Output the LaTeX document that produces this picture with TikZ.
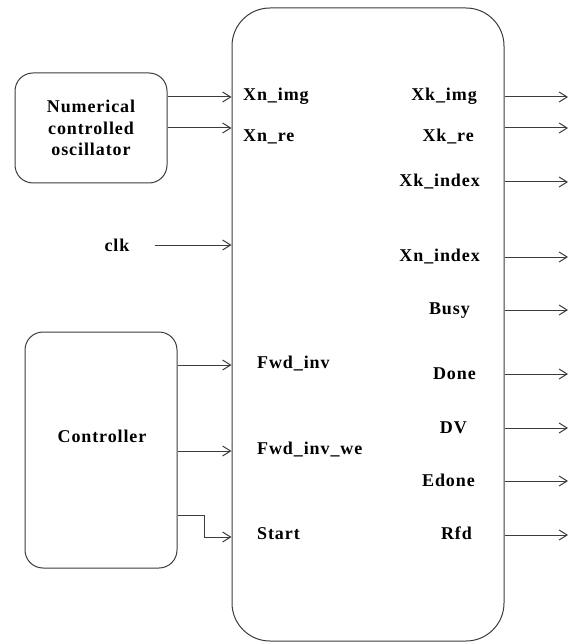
\documentclass[tikz,border=0pt]{standalone}
\usepackage{fontspec}
\setmainfont{Liberation Serif}[LetterSpace=5]
\usetikzlibrary{positioning,arrows.meta}
\definecolor{WireGray}{RGB}{60,60,60}
\tikzset{
  blk/.style={draw=WireGray,line width=1pt,rounded corners=18pt,inner sep=0pt},
  port/.style={font=\bfseries\fontsize{18}{21.5}\selectfont,inner sep=0pt,text=black},
  sig/.style={draw=WireGray,line width=1pt,-{Straight Barb[length=8pt,width=10pt,line width=1pt]}},
}

\begin{document}
\begin{tikzpicture}[x=1pt,y=-1pt]
\useasboundingbox (0,0) rectangle (576,644);
% blocks
\node[blk,minimum width=272pt,minimum height=633pt,rounded corners=38pt] (main) at (368,324.5) {};
\node[blk,port,minimum width=152pt,minimum height=110pt,align=center] (nco) at (91,128) {Numerical\\controlled\\oscillator};
\node[blk,minimum width=152pt,minimum height=236pt] (ctrl) at (101,450) {};
\node[port,anchor=base] (ctrltxt) at (102,442) {Controller};
\node[port,anchor=base] (clk) at (117,251) {clk};
% input ports
\node[port,anchor=base west] (xnimg) at (243,101) {Xn\_img};
\node[port,anchor=base west] (xnre) at (243,142) {Xn\_re};
\node[port,anchor=base west] (fwdinv) at (257,368) {Fwd\_inv};
\node[port,anchor=base west] (fwdinvwe) at (257,454) {Fwd\_inv\_we};
\node[port,anchor=base west] (start) at (257,539) {Start};
% output ports
\node[port,anchor=base east] (xkimg) at (477,101) {Xk\_img};
\node[port,anchor=base east] (xkre) at (474,142) {Xk\_re};
\node[port,anchor=base east] (xkindex) at (480,187) {Xk\_index};
\node[port,anchor=base east] (xnindex) at (480,261) {Xn\_index};
\node[port,anchor=base east] (busy) at (470,314) {Busy};
\node[port,anchor=base east] (done) at (476,379) {Done};
\node[port,anchor=base east] (dv) at (467,433) {DV};
\node[port,anchor=base east] (edone) at (475,486) {Edone};
\node[port,anchor=base east] (rfd) at (472,539) {Rfd};
% inputs
\draw[sig] (nco.east |- 0,97) -- (main.west |- 0,97);
\draw[sig] (nco.east |- 0,128) -- (main.west |- 0,128);
\draw[sig] ([xshift=25pt]clk.east |- 0,245) -- (main.west |- 0,245);
\draw[sig] (ctrl.east |- 0,365) -- (main.west |- 0,365);
\draw[sig] (ctrl.east |- 0,451) -- (main.west |- 0,451);
\draw[sig] (ctrl.east |- 0,515) -| (204,537) -- (main.west |- 0,537);
% outputs
\foreach \y in {97,128,182,257,310,374,428,481,535}
  \draw[sig] (main.east |- 0,\y) -- (568,\y);
\end{tikzpicture}
\end{document}
